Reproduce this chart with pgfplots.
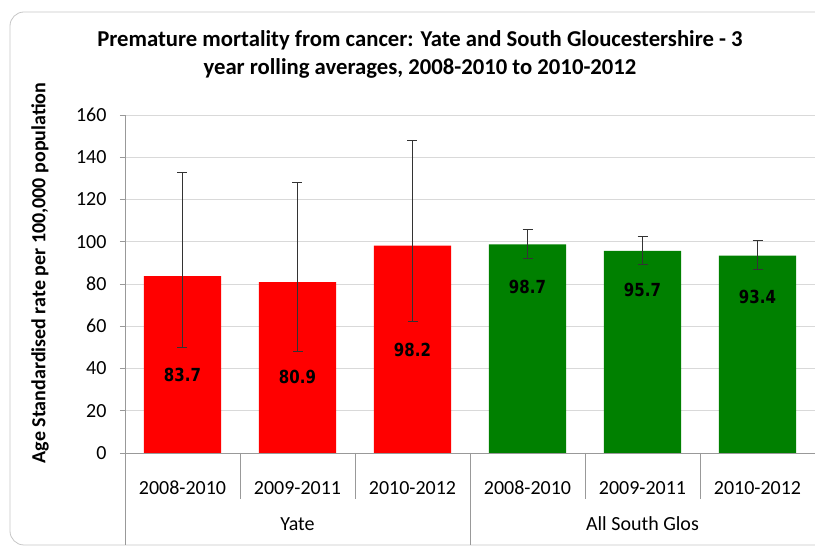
\documentclass[border=0pt]{standalone}
\usepackage{pgfplots}
\pgfplotsset{compat=1.18}
\usepackage{fontspec}
\setmainfont{Carlito}
\newfontfamily\dejavu{DejaVu Sans}
\pgfplotstableread{
x y ep em
0 83.7 49.3 33.9
1 80.9 47.2 32.6
2 98.2 49.6 36.0
}\yate
\pgfplotstableread{
x y ep em
3 98.7 7.2 6.4
4 95.7 6.9 6.4
5 93.4 7.1 6.3
}\sglos
\pgfplotstableread{
x y lab
0 37 83.7
1 36 80.9
2 49 98.2
3 78.7 98.7
4 77 95.7
5 74 93.4
}\labs
\begin{document}
\begin{tikzpicture}
\path[use as bounding box] (0,0) rectangle (815pt,549pt);
\draw[gray!45, line width=0.8pt, rounded corners=14pt] (10pt,4pt) rectangle (840pt,537pt);
\node[font=\fontsize{22.7}{26}\selectfont\bfseries, align=center] at (420pt,495pt)
  {Premature mortality from cancer: Yate and South Gloucestershire - 3\\[2pt] year rolling averages, 2008-2010 to 2010-2012};
\node[font=\fontsize{20}{24}\selectfont\bfseries, rotate=90] at (40pt,276pt)
  {Age Standardised rate per 100,000 population};
\begin{axis}[
  at={(125pt,96pt)}, anchor=south west,
  scale only axis, width=690pt, height=338pt,
  xmin=-0.5, xmax=5.5, ymin=0, ymax=160,
  ytick={0,20,...,160},
  xtick={0,...,5},
  xticklabels={2008-2010,2009-2011,2010-2012,2008-2010,2009-2011,2010-2012},
  ymajorgrids, grid style={gray!30, line width=0.8pt},
  axis x line*=bottom, axis y line*=left,
  axis line style={gray!80, line width=0.8pt, -},
  xtick style={draw=none},
  ytick style={gray!80, line width=0.8pt},
  tick align=outside, major tick length=5pt,
  ticklabel style={font=\fontsize{20}{24}\selectfont},
  /pgf/number format/assume math mode=true,
  xticklabel style={anchor=center, yshift=-30pt},
  yticklabel style={anchor=east, xshift=-10pt},
  clip=false,
  error bars/error bar style={black!80, line width=0.9pt},
  error bars/error mark options={rotate=90, black!80, mark size=5pt, line width=0.9pt},
]
\addplot[ybar, bar width=0.67, bar shift=0pt, fill=red, draw=none,
  error bars/.cd, y dir=both, y explicit]
  table[x=x, y=y, y error plus=ep, y error minus=em] {\yate};
\addplot[ybar, bar width=0.67, bar shift=0pt, fill={rgb,255:red,0;green,128;blue,0}, draw=none,
  error bars/.cd, y dir=both, y explicit]
  table[x=x, y=y, y error plus=ep, y error minus=em] {\sglos};
\addplot[draw=none, mark=none, nodes near coords, point meta=explicit symbolic,
  nodes near coords style={font=\dejavu\fontsize{15}{18}\selectfont\bfseries, anchor=center, black, yscale=1.2, transform shape}]
  table[x=x, y=y, meta=lab] {\labs};
\draw[gray!80, line width=0.8pt] (axis cs:-0.5,0) -- (axis cs:-0.5,-43.5);
\draw[gray!80, line width=0.8pt] (axis cs:2.5,0) -- (axis cs:2.5,-43.5);
\draw[gray!80, line width=0.8pt] (axis cs:5.5,0) -- (axis cs:5.5,-43.5);
\draw[gray!80, line width=0.8pt] (axis cs:0.5,0) -- (axis cs:0.5,-22);
\draw[gray!80, line width=0.8pt] (axis cs:1.5,0) -- (axis cs:1.5,-22);
\draw[gray!80, line width=0.8pt] (axis cs:3.5,0) -- (axis cs:3.5,-22);
\draw[gray!80, line width=0.8pt] (axis cs:4.5,0) -- (axis cs:4.5,-22);
\node[font=\fontsize{20}{24}\selectfont] at (axis cs:1,-33.6) {Yate};
\node[font=\fontsize{20}{24}\selectfont] at (axis cs:4,-33.6) {All South Glos};
\end{axis}
\end{tikzpicture}
\end{document}
